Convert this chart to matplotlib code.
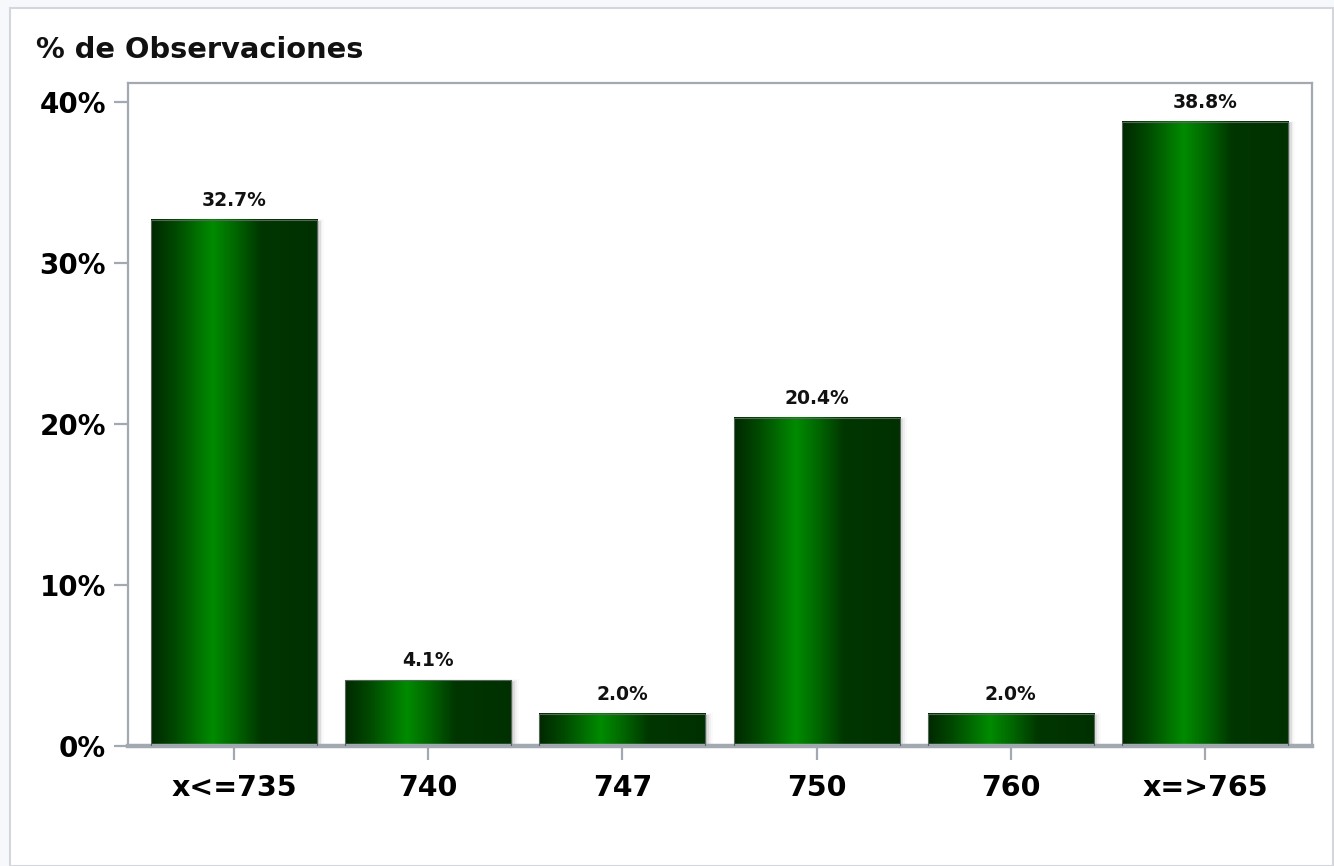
import numpy as np
import matplotlib
matplotlib.use('Agg')
import matplotlib.pyplot as plt
from matplotlib.colors import LinearSegmentedColormap
from matplotlib.patches import Rectangle

# datos del grafico
categorias = ['x<=735', '740', '747', '750', '760', 'x=>765']
porcentajes = [32.7, 4.1, 2.0, 20.4, 2.0, 38.8]
etiquetas = ['32.7%', '4.1%', '2.0%', '20.4%', '2.0%', '38.8%']
ticks_y = [0, 10, 20, 30, 40]

plt.rcParams['font.family'] = ['DejaVu Sans']
plt.rcParams['font.weight'] = 'bold'

fig = plt.figure(figsize=(13.34, 8.66), dpi=100)
fig.patch.set_facecolor('#f7f8fb')
# marco exterior blanco
fig.patches.append(Rectangle((10 / 1334, 0), 1 - 11 / 1334, 1 - 8 / 866,
                             transform=fig.transFigure, facecolor='white',
                             edgecolor='#d3d6da', linewidth=1.5, zorder=-5))

ax = fig.add_axes([128 / 1334, 1 - 746 / 866, (1312 - 128) / 1334, (746 - 83) / 866])
ax.set_zorder(2)
ax.set_facecolor('white')

verde = LinearSegmentedColormap.from_list('verde', [
    (0.0, '#002800'), (0.15, '#004a00'), (0.37, '#008c00'),
    (0.5, '#006800'), (0.66, '#003600'), (1.0, '#003000')])
grad = np.linspace(0, 1, 256).reshape(1, -1)

ancho = 0.855
x = np.arange(len(categorias))
for xi, v, et in zip(x, porcentajes, etiquetas):
    izq = xi - ancho / 2
    # sombra suave
    for k, a in enumerate([0.12, 0.07, 0.04, 0.02]):
        ax.add_patch(Rectangle((izq + 0.008 + 0.01 * k, 0), ancho, v - 0.1 + 0.05 * k,
                               facecolor='black', alpha=a, edgecolor='none', zorder=1))
    ax.imshow(grad, cmap=verde, aspect='auto', extent=(izq, izq + ancho, 0, v),
              zorder=2, interpolation='bicubic')
    ax.add_patch(Rectangle((izq, 0), ancho, v, facecolor='none',
                           edgecolor='#55665a', linewidth=0.8, zorder=3))
    ax.text(xi, v + 0.6, et, ha='center', va='bottom', fontsize=13.5,
            fontweight='bold', color='#111111')

ax.set_xlim(-0.546, 5.551)
ax.set_ylim(0, 41.2)
ax.set_xticks(x)
ax.set_xticklabels(categorias, fontsize=20.5, fontweight='bold')
ax.set_yticks(ticks_y)
ax.set_yticklabels([f'{t}%' for t in ticks_y], fontsize=20, fontweight='bold')

gris = '#a3a9b0'
for lado in ['left', 'top', 'right']:
    ax.spines[lado].set_color(gris)
    ax.spines[lado].set_linewidth(1.6)
ax.spines['bottom'].set_color(gris)
ax.spines['bottom'].set_linewidth(3.2)
ax.tick_params(axis='y', length=10, width=1.6, color=gris, pad=6)
ax.tick_params(axis='x', length=10, width=1.6, color=gris, pad=10)

fig.text(36 / 1334, 1 - 50 / 866, '% de Observaciones', fontsize=20.8,
         fontweight='bold', va='center', ha='left', color='#111111')

fig.savefig('out.png', dpi=100, facecolor=fig.get_facecolor())
